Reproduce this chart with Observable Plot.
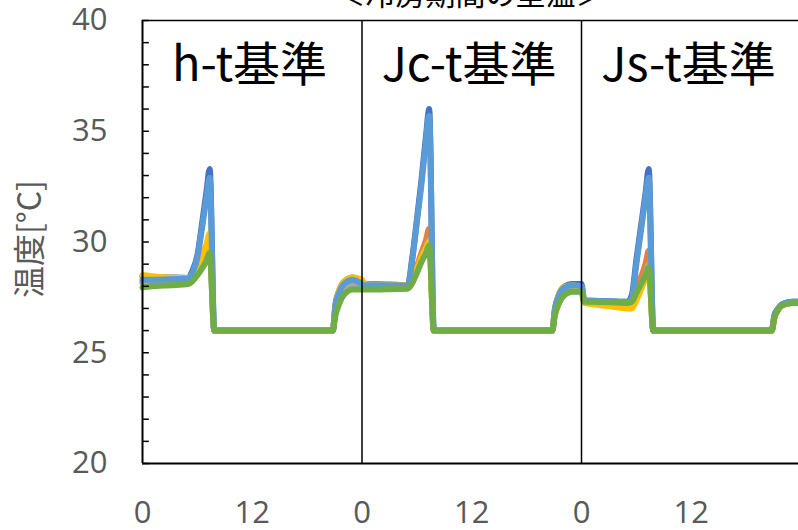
<!DOCTYPE html>
<html><head><meta charset="utf-8">
<script src="https://cdn.jsdelivr.net/npm/d3@7"></script>
<script src="https://cdn.jsdelivr.net/npm/@observablehq/plot@0.6"></script>
<style>
html,body{margin:0;padding:0;background:#fff;overflow:hidden;width:798px;height:530px}
</style>
</head><body><div id="chart"></div>
<script>
// chart text
const chartTitle = "＜冷房期間の室温＞";
const yLabel = "温度[°C]";
const panelLabels = ["h-t基準", "Jc-t基準", "Js-t基準"];
const panelStarts = [0, 24, 48];
const xTicks = [0, 12, 24, 36, 48, 60];
const yTicks = [20, 25, 30, 35, 40];
const yMinorTicks = d3.range(20, 41, 1);

// hour of day for each sample within a panel (one day)
const hours = [0, 0.3, 1, 3, 5, 5.5, 6, 6.5, 7, 7.35, 7.85, 12, 16, 20.8, 21.1, 21.5, 22, 23];

const seriesNames = ["系列1", "系列2", "系列3", "系列4", "系列5", "系列6"];
const seriesColors = ["#4472C4", "#ED7D31", "#A5A5A5", "#FFC000", "#5B9BD5", "#70AD47"];

// values: panel 1 (h-t), panel 2 (Jc-t), panel 3 (Js-t), then final end value
const s1 = [
  28.45, 28.45, 28.42, 28.4, 28.38, 28.75, 29.4, 30.8, 32.3, 33.3, 26, 26, 26, 26, 27.2, 27.8, 28.2, 28.4,
  28.2, 28.1, 28.1, 28.08, 28.05, 29.3, 31.0, 32.8, 34.8, 36.0, 26, 26, 26, 26, 27.0, 27.6, 27.95, 28.1,
  28.1, 27.35, 27.35, 27.33, 27.3, 27.6, 29.2, 30.7, 32.2, 33.3, 26, 26, 26, 26, 26.7, 27.0, 27.2, 27.3,
  27.3];
const s2 = [
  28.2, 28.2, 28.2, 28.2, 28.2, 28.35, 28.65, 29.0, 29.4, 29.8, 26, 26, 26, 26, 27.0, 27.5, 27.9, 28.1,
  28.0, 27.95, 27.95, 27.95, 27.95, 28.3, 28.9, 29.5, 30.1, 30.6, 26, 26, 26, 26, 26.9, 27.4, 27.75, 27.9,
  27.9, 27.3, 27.28, 27.25, 27.2, 27.3, 27.8, 28.4, 29.0, 29.6, 26, 26, 26, 26, 26.6, 26.95, 27.15, 27.25,
  27.25];
const s3 = [
  28.15, 28.15, 28.15, 28.15, 28.16, 28.3, 28.55, 28.85, 29.2, 29.6, 26, 26, 26, 26, 26.9, 27.4, 27.8, 28.05,
  27.95, 27.9, 27.9, 27.9, 27.9, 28.2, 28.75, 29.3, 29.8, 30.1, 26, 26, 26, 26, 26.85, 27.35, 27.7, 27.85,
  27.85, 27.3, 27.25, 27.2, 27.15, 27.2, 27.6, 28.1, 28.6, 29.0, 26, 26, 26, 26, 26.6, 26.95, 27.15, 27.25,
  27.25];
const s4 = [
  28.5, 28.5, 28.45, 28.4, 28.36, 28.55, 28.9, 29.4, 29.9, 30.4, 26, 26, 26, 26, 27.1, 27.8, 28.2, 28.4,
  28.3, 28.1, 28.08, 28.06, 28.05, 28.3, 28.8, 29.3, 29.7, 30.0, 26, 26, 26, 26, 26.95, 27.6, 27.95, 28.05,
  27.9, 27.25, 27.2, 27.1, 27.0, 27.0, 27.35, 27.85, 28.35, 28.8, 26, 26, 26, 26, 26.6, 26.95, 27.15, 27.25,
  27.25];
const s5 = [
  28.3, 28.3, 28.3, 28.32, 28.33, 28.65, 29.3, 30.6, 32.0, 32.9, 26, 26, 26, 26, 27.1, 27.7, 28.1, 28.3,
  28.1, 28.05, 28.05, 28.05, 28.03, 29.2, 30.9, 32.6, 34.6, 35.7, 26, 26, 26, 26, 26.95, 27.55, 27.9, 28.05,
  28.0, 27.35, 27.35, 27.33, 27.3, 27.45, 29.0, 30.5, 32.0, 32.9, 26, 26, 26, 26, 26.7, 27.0, 27.2, 27.3,
  27.3];
const s6 = [
  27.95, 27.97, 28.0, 28.05, 28.1, 28.25, 28.5, 28.8, 29.15, 29.5, 26, 26, 26, 26, 26.7, 27.2, 27.6, 27.85,
  27.85, 27.85, 27.85, 27.87, 27.9, 28.15, 28.6, 29.1, 29.5, 29.85, 26, 26, 26, 26, 26.7, 27.2, 27.55, 27.75,
  27.75, 27.3, 27.3, 27.28, 27.25, 27.3, 27.7, 28.1, 28.5, 28.85, 26, 26, 26, 26, 26.6, 26.95, 27.15, 27.25,
  27.25];
const seriesValues = [s1, s2, s3, s4, s5, s6];

const data = [];
seriesValues.forEach((vals, k) => {
  panelStarts.forEach((start, p) => {
    hours.forEach((h, i) => {
      data.push({series: seriesNames[k], x: start + h, y: vals[p * hours.length + i]});
    });
  });
  data.push({series: seriesNames[k], x: 72, y: vals[vals.length - 1]});
});

const panelData = panelLabels.map((label, i) => ({label, x: panelStarts[i] + 11.7}));
const latin = "'Open Sans', 'Noto Sans CJK JP', sans-serif";
const cjk = "'Noto Sans CJK JP', sans-serif";

const chart = Plot.plot({
  width: 798,
  height: 530,
  marginTop: 20,
  marginBottom: 67,
  marginLeft: 142,
  marginRight: 0,
  style: {background: "#fff", color: "#595959", fontFamily: latin},
  x: {domain: [0, 72], range: [142, 800.5], axis: null},
  y: {domain: [20, 40], axis: null},
  color: {domain: seriesNames, range: seriesColors},
  marks: [
    Plot.line(data, {x: "x", y: "y", z: "series", stroke: "series", strokeWidth: 6,
      curve: "monotone-x", strokeLinejoin: "round", strokeLinecap: "round"}),
    Plot.ruleX(panelStarts.slice(1), {stroke: "#000", strokeWidth: 1.5}),
    Plot.ruleX([0], {stroke: "#000", strokeWidth: 2}),
    Plot.ruleY([40], {stroke: "#000", strokeWidth: 1.5}),
    Plot.ruleY([20], {stroke: "#000", strokeWidth: 2}),
    Plot.ruleY(yMinorTicks, {x1: 0, x2: 0.75, stroke: "#000", strokeWidth: 1.5}),
    Plot.axisY({ticks: yTicks, tickSize: 0, tickPadding: 35, fontSize: 31, fontFamily: latin, label: null}),
    Plot.axisX({ticks: xTicks, tickFormat: d => String(d % 24), tickSize: 0, tickPadding: 37, fontSize: 31, fontFamily: latin, label: null}),
    Plot.text([yLabel], {frameAnchor: "left", rotate: -90, dx: -112, dy: 56, fontSize: 32, fontFamily: cjk, fill: "#595959"}),
    Plot.text(panelData, {x: "x", text: "label", frameAnchor: "top", dy: 27, fontSize: 47, fontFamily: cjk, fill: "#000"}),
    Plot.text([chartTitle], {frameAnchor: "top", dy: -16, lineAnchor: "bottom", fontSize: 30, fontFamily: cjk, fill: "#000"})
  ]
});
document.getElementById("chart").appendChild(chart);
</script>
</body></html>
